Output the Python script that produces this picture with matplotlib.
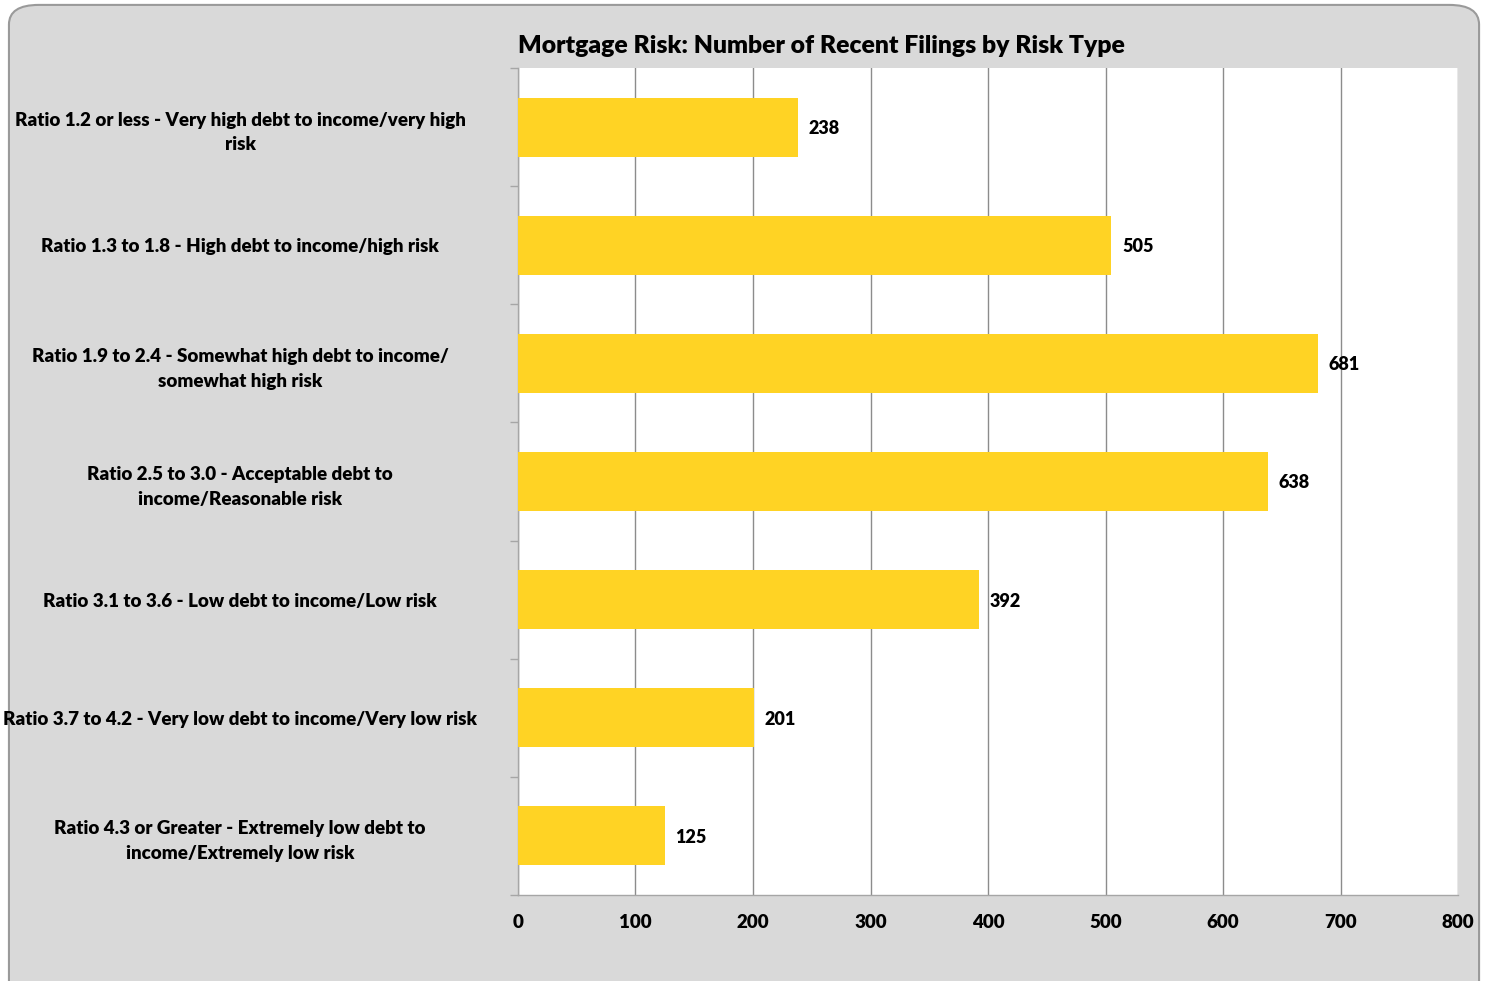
import matplotlib.pyplot as plt
import numpy as np
from matplotlib.patches import FancyBboxPatch

plt.rcParams['font.family'] = ['Lato', 'DejaVu Sans']

# Kategori risiko (atas ke bawah)
categories = [
    "Ratio 1.2 or less - Very high debt to income/very high\nrisk",
    "Ratio 1.3 to 1.8 - High debt to income/high risk",
    "Ratio 1.9 to 2.4 - Somewhat high debt to income/\nsomewhat high risk",
    "Ratio 2.5 to 3.0 - Acceptable debt to\nincome/Reasonable risk",
    "Ratio 3.1 to 3.6 - Low debt to income/Low risk",
    "Ratio 3.7 to 4.2 - Very low debt to income/Very low risk",
    "Ratio 4.3 or Greater - Extremely low debt to\nincome/Extremely low risk",
]
filings = [238, 505, 681, 638, 392, 201, 125]
x_ticks = [0, 100, 200, 300, 400, 500, 600, 700, 800]

W = 'heavy'

fig = plt.figure(figsize=(14.91, 9.81), dpi=100)
fig.patch.set_facecolor('white')

# Latar abu-abu dengan sudut membulat
bg = FancyBboxPatch((0.006, -0.03), 0.986, 1.025,
                    boxstyle="round,pad=0,rounding_size=0.02",
                    transform=fig.transFigure, facecolor='#D9D9D9',
                    edgecolor='#9A9A9A', linewidth=1.5, zorder=-10)
fig.patches.append(bg)

ax = fig.add_axes([0.3474, 0.0877, 0.6305, 0.843])
ax.set_zorder(1)
ax.set_facecolor('white')

y = np.arange(len(categories))
ax.barh(y, filings, height=0.5, color='#FFD324', zorder=3)

for yi, v in zip(y, filings):
    ax.text(v + 9, yi, str(v), va='center_baseline', ha='left',
            fontsize=13, fontweight=W, color='black', zorder=4)

ax.set_xlim(0, 800)
ax.set_ylim(len(categories) - 0.5, -0.5)
ax.set_xticks(x_ticks)
ax.set_xticklabels([str(t) for t in x_ticks], fontsize=13.5, fontweight=W)
ax.tick_params(axis='x', length=0, pad=14)

ax.set_yticks(y)
ax.set_yticklabels(categories, fontsize=13.5, fontweight=W,
                   ha='center', multialignment='center', linespacing=1.55)
ax.tick_params(axis='y', which='major', length=0, pad=200)
ax.set_yticks(np.arange(-0.5, len(categories), 1), minor=True)
ax.tick_params(axis='y', which='minor', length=6, color='#A6A6A6', width=1)

ax.grid(axis='x', color='#8C8C8C', linewidth=1, zorder=1)
for s in ['top', 'right']:
    ax.spines[s].set_visible(False)
for s in ['left', 'bottom']:
    ax.spines[s].set_color('#A6A6A6')
    ax.spines[s].set_linewidth(1)

fig.text(0.3474, 0.953, "Mortgage Risk: Number of Recent Filings by Risk Type",
         ha='left', va='center', fontsize=17.8, fontweight=W)

fig.savefig('out.png', dpi=100, facecolor=fig.get_facecolor())
